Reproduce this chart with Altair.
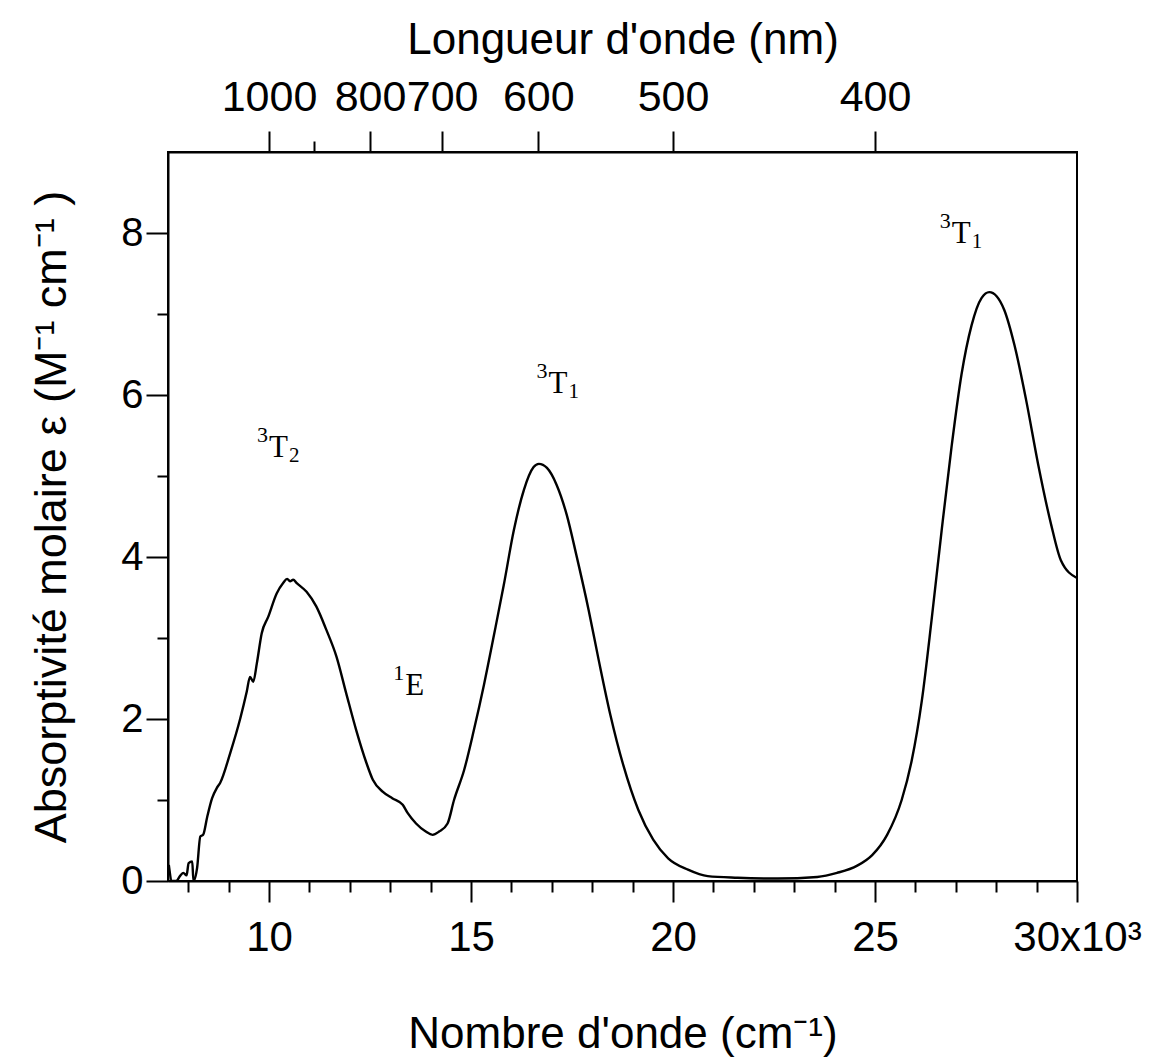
import altair as alt
import pandas as pd

# ---- spectrum (wavenumber in 10^3 cm^-1, molar absorptivity) ----
wavenumber_k = [
    7.52, 7.60, 7.70, 7.81, 7.88, 7.96, 8.01, 8.10, 8.13, 8.22, 8.30, 8.37, 8.47,
    8.59, 8.71, 8.79, 9.04, 9.29, 9.45, 9.53, 9.61, 9.70, 9.82, 9.98, 10.19,
    10.35, 10.45, 10.52, 10.60, 10.68, 10.93, 11.17, 11.42, 11.67, 11.91, 12.16,
    12.41, 12.57, 12.82, 13.06, 13.31, 13.43, 13.64, 13.88, 14.05, 14.21, 14.42,
    14.58, 14.83, 15.07, 15.32, 15.57, 15.81, 16.06, 16.31, 16.55, 16.68, 16.88,
    17.12, 17.37, 17.61, 17.91, 18.16, 18.45, 18.77, 19.14, 19.51, 19.88, 20.37,
    20.86, 21.60, 22.59, 23.57, 24.06, 24.56, 24.93, 25.30, 25.66, 25.91, 26.16,
    26.40, 26.65, 26.90, 27.14, 27.39, 27.64, 27.83, 28.01, 28.20, 28.45, 28.74,
    29.04, 29.36, 29.60, 30.00,
]
epsilon = [
    0.20, 0.00, 0.00, 0.07, 0.10, 0.07, 0.22, 0.24, 0.00, 0.16, 0.55, 0.57, 0.79,
    1.02, 1.15, 1.21, 1.58, 2.01, 2.34, 2.52, 2.46, 2.69, 3.06, 3.26, 3.55,
    3.68, 3.73, 3.70, 3.72, 3.68, 3.57, 3.39, 3.10, 2.77, 2.32, 1.86,
    1.46, 1.25, 1.10, 1.02, 0.94, 0.84, 0.71, 0.61, 0.57, 0.61, 0.71,
    1.00, 1.37, 1.86, 2.42, 3.04, 3.65, 4.33, 4.83, 5.11, 5.15, 5.10,
    4.89, 4.52, 4.02, 3.35, 2.73, 2.05, 1.43, 0.88, 0.51, 0.28, 0.14,
    0.06, 0.04, 0.03, 0.05, 0.10, 0.19, 0.32, 0.57, 1.00, 1.49, 2.23,
    3.22, 4.33, 5.38, 6.25, 6.86, 7.20, 7.27, 7.22, 7.05, 6.62, 5.94,
    5.14, 4.40, 3.96, 3.74,
]

# ---- band labels ----
label_x = [10.0, 13.37, 16.92, 26.9]
label_y = [5.23, 2.30, 6.02, 7.88]
label_sup = ["3", "1", "3", "3"]
label_base = ["T", "E", "T", "T"]
label_sub = ["2", "", "1", "1"]

# ---- ticks ----
top_nm = [1000, 900, 800, 700, 600, 500, 400]
top_vals = [10000.0 / w for w in top_nm]
bottom_ticks = list(range(8, 31))
y_ticks = list(range(0, 9))

spec = pd.DataFrame({"wn": wavenumber_k, "eps": epsilon})
labels = pd.DataFrame({"wn": label_x, "eps": label_y, "sup": label_sup,
                       "base": label_base, "sub": label_sub})
topdf = pd.DataFrame({"wn": top_vals, "eps": [0.0] * len(top_vals)})

SANS = "Liberation Sans"
SERIF = "Liberation Serif"

xscale = alt.Scale(domain=[7.5, 30], nice=False, zero=False)
yscale = alt.Scale(domain=[0, 9], nice=False, zero=False)

common_axis = dict(
    domainColor="black", domainWidth=2, tickColor="black", tickWidth=2,
    labelFont=SANS, labelColor="black",
    titleFont=SANS, titleColor="black", titleFontWeight="normal",
    grid=False, labelOverlap=False, labelFlush=False,
)

y_enc = alt.Y("eps:Q", scale=yscale, axis=alt.Axis(
    orient="left", values=y_ticks,
    title="Absorptivité molaire ε (M⁻¹ cm⁻¹ )",
    labelExpr="datum.value % 2 == 0 ? format(datum.value, 'd') : ''",
    tickSize={"condition": {"test": "datum.value % 2 == 0", "value": 22}, "value": 11},
    labelFontSize=40, labelPadding=3, titleFontSize=45, titlePadding=46, **common_axis))

line = alt.Chart(spec).mark_line(
    color="black", strokeWidth=2.4, clip=True, interpolate="monotone"
).encode(
    x=alt.X("wn:Q", scale=xscale, axis=alt.Axis(
        orient="bottom", values=bottom_ticks,
        title="Nombre d'onde (cm⁻¹)",
        labelExpr="datum.value == 30 ? '30x10³' : (datum.value % 5 == 0 ? format(datum.value, 'd') : '')",
        tickSize={"condition": {"test": "datum.value % 5 == 0", "value": 21}, "value": 11},
        labelFontSize=42, labelPadding=15, titleFontSize=44, titlePadding=54, **common_axis)),
    y=y_enc,
)

top_axis = alt.Chart(topdf).mark_point(opacity=0).encode(
    x=alt.X("wn:Q", scale=xscale, axis=alt.Axis(
        orient="top", values=top_vals,
        title="Longueur d'onde (nm)",
        labelExpr="abs(datum.value - 11.1111) < 0.01 ? '' : format(10000 / datum.value, '.0f')",
        tickSize={"condition": {"test": "abs(datum.value - 11.1111) < 0.01", "value": 11}, "value": 21},
        labelFontSize=43, labelPadding=12, titleFontSize=44, titlePadding=14, **common_axis)),
    y=y_enc,
)

def txt(field, size, align, dx, dy):
    return alt.Chart(labels).mark_text(
        font=SERIF, fontSize=size, align=align, baseline="alphabetic",
        color="black", dx=dx, dy=dy,
    ).encode(
        x=alt.X("wn:Q", scale=xscale, axis=None),
        y=y_enc,
        text=f"{field}:N",
    )

base_txt = txt("base", 31, "left", 0, 0)
sup_txt = txt("sup", 22, "right", -1, -15)
sub_txt = txt("sub", 21, "left", 20, 5)

chart = alt.layer(line, top_axis, base_txt, sup_txt, sub_txt).resolve_axis(
    x="independent"
).properties(
    width=909, height=729,
    autosize=alt.AutoSizeParams(type="none"),
    padding={"left": 168, "top": 152, "right": 73, "bottom": 183},
    background="white",
).configure_view(stroke="black", strokeWidth=2)

chart.save("out.html", embed_options={"renderer": "svg", "actions": False})
